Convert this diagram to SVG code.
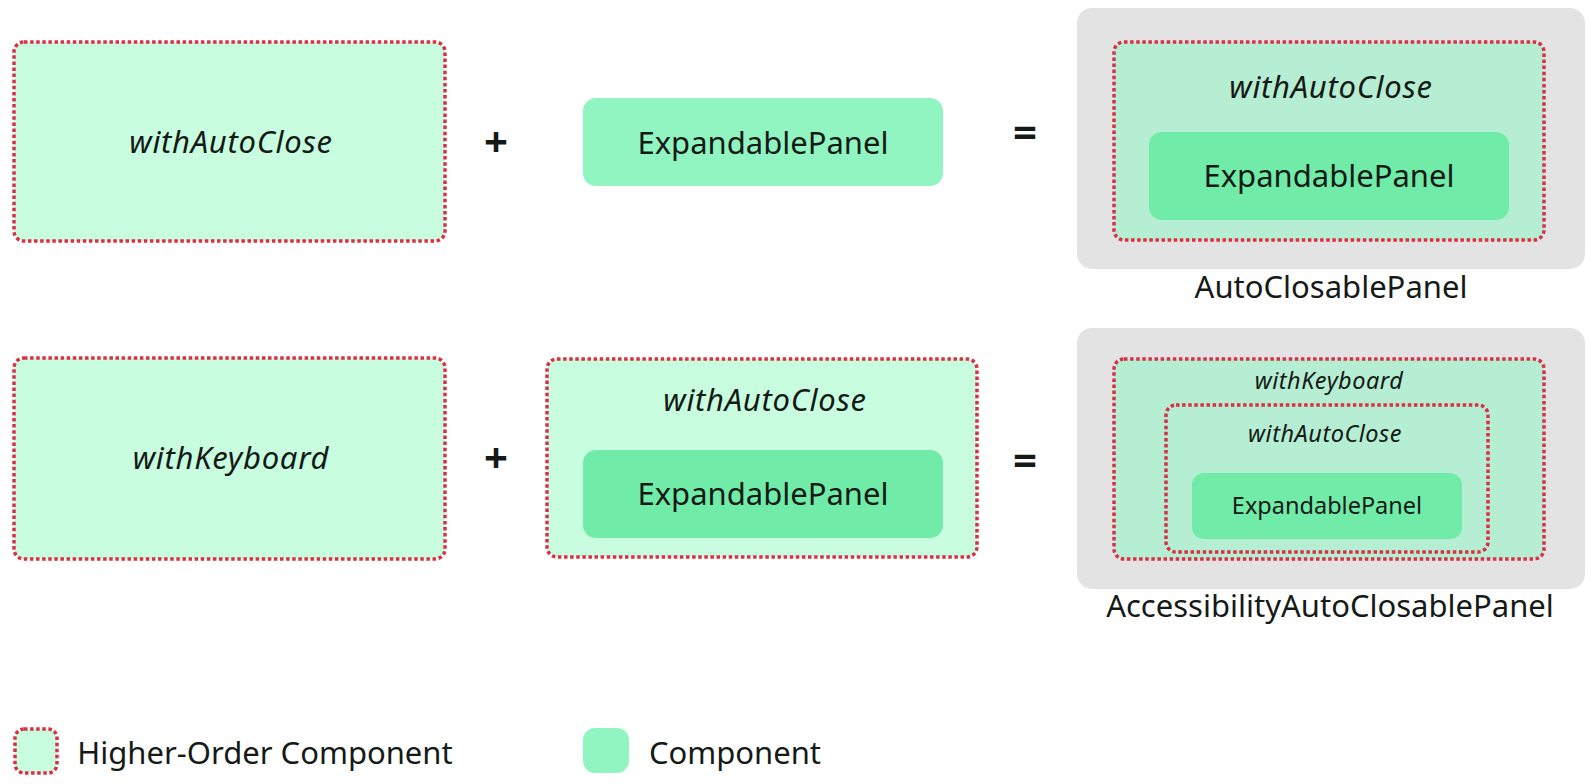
<svg xmlns="http://www.w3.org/2000/svg" width="1591" height="784" viewBox="0 0 1591 784">
<style>
text{font-family:"Noto Sans","Open Sans","DejaVu Sans",sans-serif;fill:#151a17;text-anchor:middle}
.it{font-style:italic;letter-spacing:0.7px}
.lg{font-size:31px}
.sm{font-size:23.5px}
.sm.it{letter-spacing:0.5px}
.op{font-size:42px;font-weight:bold}
.hoc{fill:#c8fde0;stroke:#dc2f45;stroke-width:3.5;stroke-dasharray:3.5 2.6}
.hocd{fill:#b6eed3;stroke:#dc2f45;stroke-width:3.5;stroke-dasharray:3.5 2.6}
.cmp{fill:#90f5c0}
.cmpd{fill:#70eba8}
.res{fill:#e3e3e3}
</style>
<rect width="1591" height="784" fill="#ffffff"/>
<g id="row1-hoc">
<rect class="hoc" x="14" y="42" width="431" height="199" rx="10"/>
<text class="lg it" x="231" y="153">withAutoClose</text>
</g>
<g id="row1-plus"><text class="op" x="496" y="157">+</text></g>
<g id="row1-component">
<rect class="cmp" x="583" y="98" width="360" height="88" rx="13"/>
<text class="lg" x="763" y="154">ExpandablePanel</text>
</g>
<g id="row1-equals"><text class="op" x="1025" y="147">=</text></g>
<g id="row1-result">
<rect class="res" x="1077" y="8" width="508" height="261" rx="15"/>
<rect class="hocd" x="1114" y="42" width="430" height="198" rx="10"/>
<text class="lg it" x="1331" y="98">withAutoClose</text>
<rect class="cmpd" x="1149" y="132" width="360" height="88" rx="13"/>
<text class="lg" x="1329" y="187">ExpandablePanel</text>
<text class="lg" x="1331" y="298">AutoClosablePanel</text>
</g>
<g id="row2-hoc">
<rect class="hoc" x="14" y="358" width="431" height="201" rx="10"/>
<text class="lg it" x="231" y="469">withKeyboard</text>
</g>
<g id="row2-plus"><text class="op" x="496" y="473">+</text></g>
<g id="row2-hoc-component">
<rect class="hoc" x="547" y="359" width="430" height="198" rx="10"/>
<text class="lg it" x="765" y="411">withAutoClose</text>
<rect class="cmpd" x="583" y="450" width="360" height="88" rx="13"/>
<text class="lg" x="763" y="505">ExpandablePanel</text>
</g>
<g id="row2-equals"><text class="op" x="1025" y="475">=</text></g>
<g id="row2-result">
<rect class="res" x="1077" y="328" width="508" height="261" rx="15"/>
<rect class="hocd" x="1114" y="359" width="430" height="200" rx="10"/>
<text class="sm it" x="1329" y="389">withKeyboard</text>
<rect class="hocd" x="1166" y="405" width="322" height="147" rx="10"/>
<text class="sm it" x="1325" y="442">withAutoClose</text>
<rect class="cmpd" x="1192" y="473" width="270" height="66" rx="12"/>
<text class="sm" x="1327" y="514">ExpandablePanel</text>
<text class="lg" x="1330" y="617">AccessibilityAutoClosablePanel</text>
</g>
<g id="legend-hoc">
<rect class="hoc" x="15" y="729" width="42" height="44" rx="9"/>
<text class="lg" x="265" y="764">Higher-Order Component</text>
</g>
<g id="legend-component">
<rect class="cmp" x="583" y="728" width="46" height="45" rx="12"/>
<text class="lg" x="735" y="764">Component</text>
</g>
</svg>
